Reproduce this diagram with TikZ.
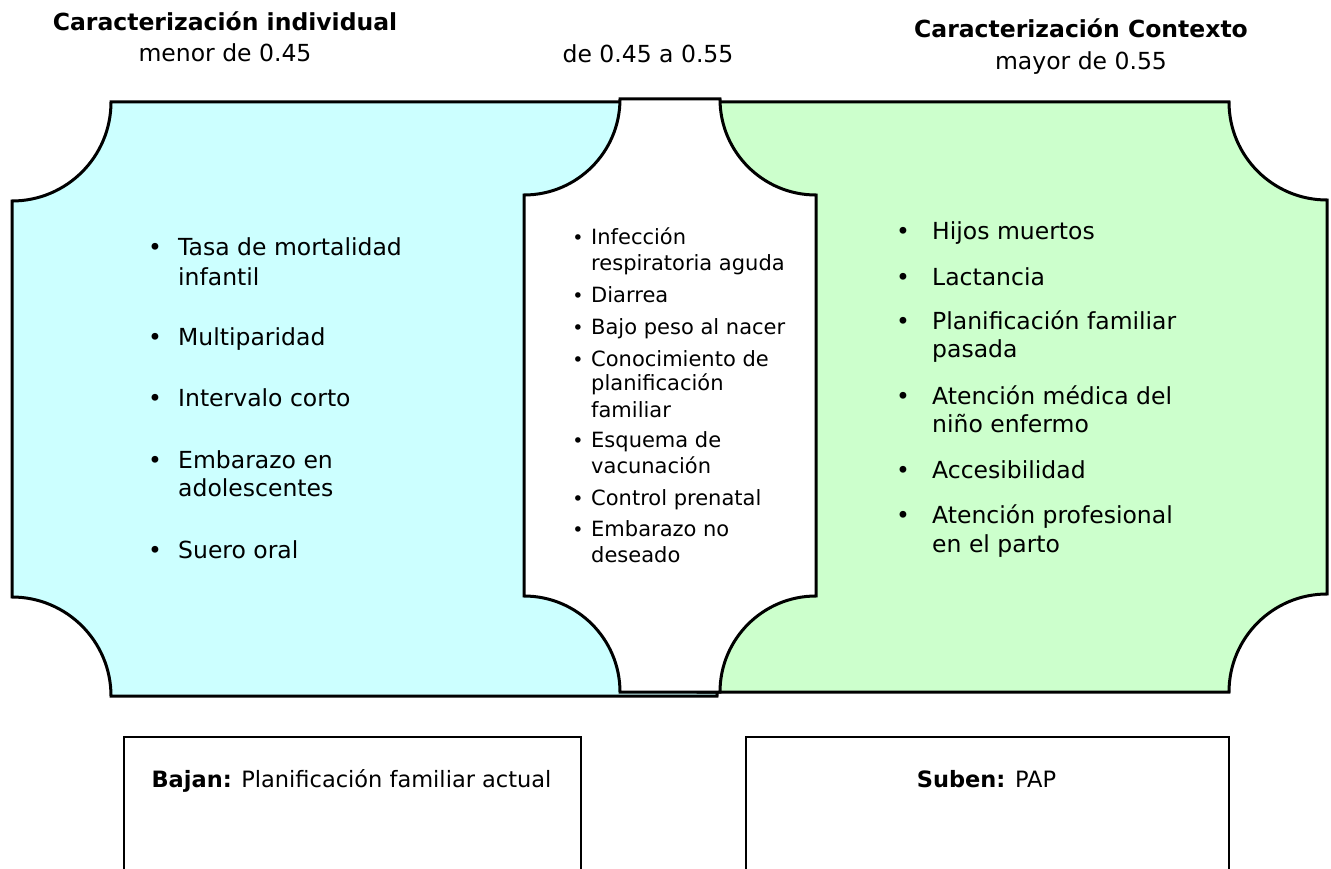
\documentclass[tikz,border=0pt]{standalone}
\usepackage{fontspec}
\setmainfont{DejaVu Sans}
\usepackage{tikz}
\usetikzlibrary{positioning}

\definecolor{celeste}{HTML}{CCFFFF}
\definecolor{verdeclaro}{HTML}{CCFFCC}

% placa: style, x1, y1, x2, y2, radius (corners cut inwards)
\newcommand{\placa}[6]{%
  \filldraw[#1] ({#2+#6},#3) -- ({#4-#6},#3)
    .. controls +(0,{0.5523*#6}) and +({-0.5523*#6},0) .. (#4,{#3+#6})
    -- (#4,{#5-#6})
    .. controls +({-0.5523*#6},0) and +(0,{-0.5523*#6}) .. ({#4-#6},#5)
    -- ({#2+#6},#5)
    .. controls +(0,{-0.5523*#6}) and +({0.5523*#6},0) .. (#2,{#5-#6})
    -- (#2,{#3+#6})
    .. controls +({0.5523*#6},0) and +(0,{0.5523*#6}) .. ({#2+#6},#3) -- cycle;}

\begin{document}
\begin{tikzpicture}[x=1pt,y=-1pt]
        \tikzstyle{placa} = [line width=3pt, draw=black, line join=miter]
        \tikzstyle{caja} = [draw=black, line width=1.6pt, rectangle, inner sep=0pt, anchor=north west]
        \tikzstyle{head} = [inner sep=0pt, anchor=base, font=\fontsize{23.5}{28}\selectfont]
        \tikzstyle{txt} = [inner sep=0pt, anchor=base west, font=\fontsize{23.5}{28}\selectfont]
        \tikzstyle{txtc} = [inner sep=0pt, anchor=base west, font=\fontsize{21}{25}\selectfont]
        \tikzstyle{bala} = [inner sep=0pt, anchor=base, font=\fontsize{23.5}{28}\selectfont]
        \tikzstyle{balac} = [inner sep=0pt, anchor=base, font=\fontsize{19}{25}\selectfont]

        \useasboundingbox (0,0) rectangle (1331,869);
        \clip (0,0) rectangle (1331,869);

        % headers
        \node[head] (titind) at (225,31) {\textbf{Caracterización individual}};
        \node[head] (menor) at (225,62) {menor de 0.45};
        \node[head] (medio) at (648,63) {de 0.45 a 0.55};
        \node[head] (titcon) at (1081,38) {\textbf{Caracterización Contexto}};
        \node[head] (mayor) at (1081,70) {mayor de 0.55};

        % plates
        \placa{placa, fill=celeste}{12}{102}{816}{696}{99}
        \placa{placa, fill=verdeclaro}{600}{102}{1327}{692}{98}
        \placa{placa, fill=white}{524}{99}{816}{692}{96}

        % individual
        \foreach \y/\t/\b [count=\i] in {255/Tasa de mortalidad/1, 285/infantil/0,
            345/Multiparidad/1, 406/Intervalo corto/1, 468/Embarazo en/1,
            496/adolescentes/0, 558/Suero oral/1} {
          \node[txt] (ind\i) at (178,\y) {\t};
          \ifnum\b=1 \node[bala] (bind\i) at (155,\y) {•}; \fi
        }

        % middle
        \foreach \y/\t/\b [count=\i] in {245/Infección/1, 271/respiratoria aguda/0,
            302/Diarrea/1, 334/Bajo peso al nacer/1, 366/Conocimiento de/1,
            390/planificación/0, 417/familiar/0, 447/Esquema de/1, 473/vacunación/0,
            505/Control prenatal/1, 536/Embarazo no/1, 562/deseado/0} {
          \node[txtc] (med\i) at (591,\y) {\t};
          \ifnum\b=1 \node[balac] (bmed\i) at (578,\y) {•}; \fi
        }

        % context
        \foreach \y/\t/\b [count=\i] in {240/Hijos muertos/1, 285/Lactancia/1,
            329/Planificación familiar/1, 357/pasada/0, 404/Atención médica del/1,
            432/niño enfermo/0, 478/Accesibilidad/1, 523/Atención profesional/1,
            552/en el parto/0} {
          \node[txt] (con\i) at (932,\y) {\t};
          \ifnum\b=1 \node[bala] (bcon\i) at (903,\y) {•}; \fi
        }

        % boxes
        \node[caja, minimum width=457pt, minimum height=200pt] (bajan) at (123,736) {};
        \node[head, font=\fontsize{22.5}{28}\selectfont] (bajantxt) at (351.5,787)
            {\textbf{Bajan:} Planificación familiar actual};
        \node[caja, minimum width=483pt, minimum height=200pt] (suben) at (745,736) {};
        \node[head, font=\fontsize{22.5}{28}\selectfont] (subentxt) at (986.5,787)
            {\textbf{Suben:} PAP};
\end{tikzpicture}
\end{document}
